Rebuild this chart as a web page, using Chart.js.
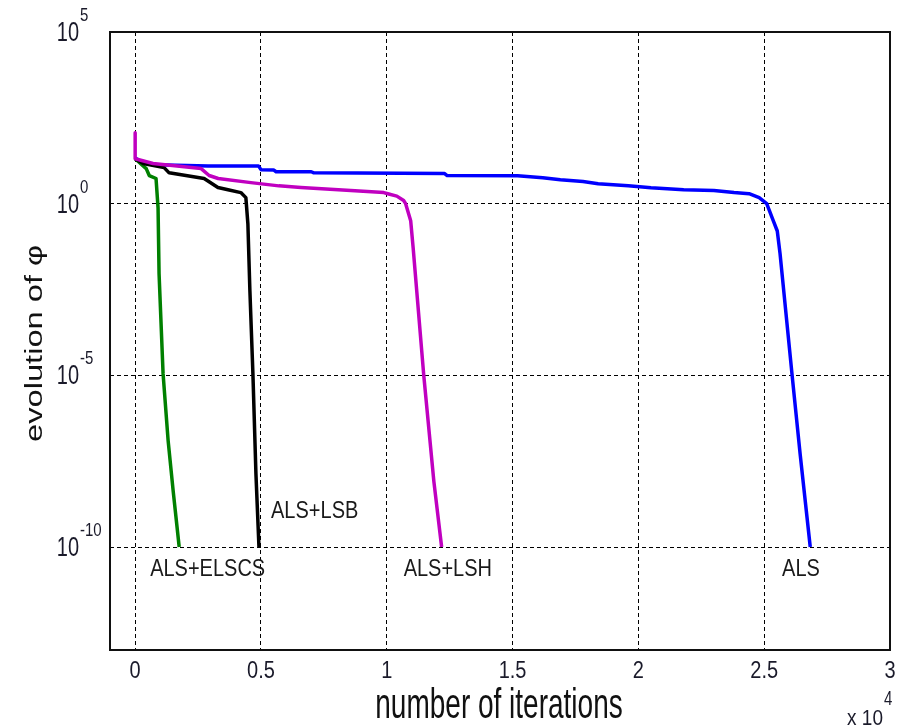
<!DOCTYPE html>
<html>
<head>
<meta charset="utf-8">
<script src="https://cdn.jsdelivr.net/npm/chart.js@4/dist/chart.umd.min.js"></script>
<style>
body{margin:0;background:#fff;}
canvas{display:block;background:#fff;}
</style>
</head>
<body>
<canvas id="myChart" width="904" height="728"></canvas>
<script>
// values (x = iterations, y = phi)
let alsIter=[0,250,800,2900,4900,5000,5500,5600,7000,7100,12300,12400,15200,16200,16900,17800,18400,19600,20500,21800,23000,23800,24400,24800,25100,25360,25520,25630,26110,26430,26830];
let alsPhi=[21.4,17,13.5,12.6,12.6,9.8,9.6,8.5,8.5,7.9,7.5,6.6,6.5,5.7,5.0,4.4,3.8,3.35,2.9,2.55,2.4,2.1,1.95,1.5,1.0,0.32,0.16,0.035,1e-5,5e-8,1e-10];

let lshIter=[0,0,710,2620,2940,3300,4600,5710,6590,8570,9880,10040,10400,10670,10750,10950,11050,11470,11870,12180];
let lshPhi=[117,20.4,14.8,10.5,6.6,5.4,4.1,3.3,2.95,2.4,2.1,1.95,1.66,1.23,1.0,0.32,0.05,1e-5,8.3e-9,1e-10];

let lsbIter=[0,320,1150,1350,2500,2740,3290,3690,4200,4400,4480,4560,4680,4800,4920];
let lsbPhi=[20.4,14.8,11.2,7.9,5.75,5.4,2.95,2.55,2.1,1.5,0.26,2.9e-3,1.1e-5,1.35e-8,1e-10];

let elscsIter=[0,440,560,830,910,950,1110,1310,1510,1750];
let elscsPhi=[20.4,10.5,6.6,5.4,0.76,9.1e-3,1.1e-5,1.26e-7,4.3e-9,1e-10];

let xTicks=[0,5000,10000,15000,20000,25000,30000];
let yTicks=[1e-10,1e-5,1,1e5];
let yExp=['-10','-5','0','5'];

// curve names and where they sit (data coords)
let names=['ALS+LSB','ALS+ELSCS','ALS+LSH','ALS'];
let nameIter=[5400,595,10670,25710];
let namePhi=[7e-10,1.4e-11,1.4e-11,1.4e-11];

function pts(xs,ys){
    return xs.map((x,i)=>({x:x,y:ys[i]}));
}

function txt(ctx,s,x,y,size,sy,align){
    ctx.save();
    ctx.translate(x,y);
    ctx.scale(1,sy);
    ctx.font=size+'px "Liberation Sans", Arial, sans-serif';
    ctx.textAlign=align;
    ctx.textBaseline='alphabetic';
    ctx.fillText(s,0,0);
    ctx.restore();
}

const textPlugin={
    id:'texts',
    afterDraw(chart){
        const ctx=chart.ctx;
        const a=chart.chartArea;
        const xs=chart.scales.x, ys=chart.scales.y;
        // box
        ctx.save();
        ctx.strokeStyle='#111';
        ctx.lineWidth=2;
        ctx.strokeRect(a.left,a.top,a.right-a.left,a.bottom-a.top);
        ctx.restore();

        ctx.fillStyle='#1a1a2a';
        // x tick labels
        xTicks.forEach(v=>{
            let px=xs.getPixelForValue(v);
            txt(ctx,String(v/10000),px,678,20,1.2,'center');
        });
        txt(ctx,'x 10',883,725,19,1.2,'right');
        txt(ctx,'4',884,705,15,1.35,'left');

        // y tick labels
        yTicks.forEach((v,i)=>{
            let py=ys.getPixelForValue(v);
            txt(ctx,'10',79,py+9,20,1.35,'right');
            txt(ctx,yExp[i],80,py-11,15,1.2,'left');
        });

        // axis titles
        ctx.fillStyle='#111';
        txt(ctx,'number of iterations',499,718,28,1.5,'center');
        ctx.save();
        ctx.translate(42,442);
        ctx.rotate(-Math.PI/2);
        ctx.scale(1.42,1);
        ctx.font='23px "Liberation Sans", Arial, sans-serif';
        ctx.textAlign='left';
        ctx.fillText('evolution of φ',0,0);
        ctx.restore();

        // curve names
        ctx.fillStyle='#1a1a1a';
        names.forEach((n,i)=>{
            txt(ctx,n,xs.getPixelForValue(nameIter[i]),ys.getPixelForValue(namePhi[i]),20,1.2,'left');
        });
    }
};

const ctx=document.getElementById('myChart').getContext('2d');
const myChart=new Chart(ctx,{
    type:'line',
    data:{
        datasets:[
            {label:'ALS+LSH',data:pts(lshIter,lshPhi),borderColor:'#c000c0'},
            {label:'ALS+LSB',data:pts(lsbIter,lsbPhi),borderColor:'#000000'},
            {label:'ALS+ELSCS',data:pts(elscsIter,elscsPhi),borderColor:'#008000'},
            {label:'ALS',data:pts(alsIter,alsPhi),borderColor:'#0000ff'}
        ]
    },
    options:{
        responsive:false,
        animation:false,
        devicePixelRatio:1,
        layout:{padding:{left:110,top:32,right:14,bottom:78}},
        elements:{
            line:{borderWidth:3.5,tension:0,fill:false,borderJoinStyle:'round'},
            point:{radius:0}
        },
        plugins:{legend:{display:false},tooltip:{enabled:false}},
        scales:{
            x:{
                type:'linear',
                min:-1000,
                max:30000,
                afterBuildTicks:(s)=>{s.ticks=xTicks.map(v=>({value:v}));},
                afterFit:(s)=>{s.height=0;},
                ticks:{display:false},
                grid:{color:'#000',lineWidth:1,drawTicks:false},
                border:{display:false,dash:[4,3]}
            },
            y:{
                type:'logarithmic',
                min:1e-13,
                max:1e5,
                afterBuildTicks:(s)=>{s.ticks=yTicks.map(v=>({value:v}));},
                afterFit:(s)=>{s.width=0;},
                ticks:{display:false},
                grid:{color:'#000',lineWidth:1,drawTicks:false},
                border:{display:false,dash:[4,3]}
            }
        }
    },
    plugins:[textPlugin]
});
</script>
</body>
</html>
